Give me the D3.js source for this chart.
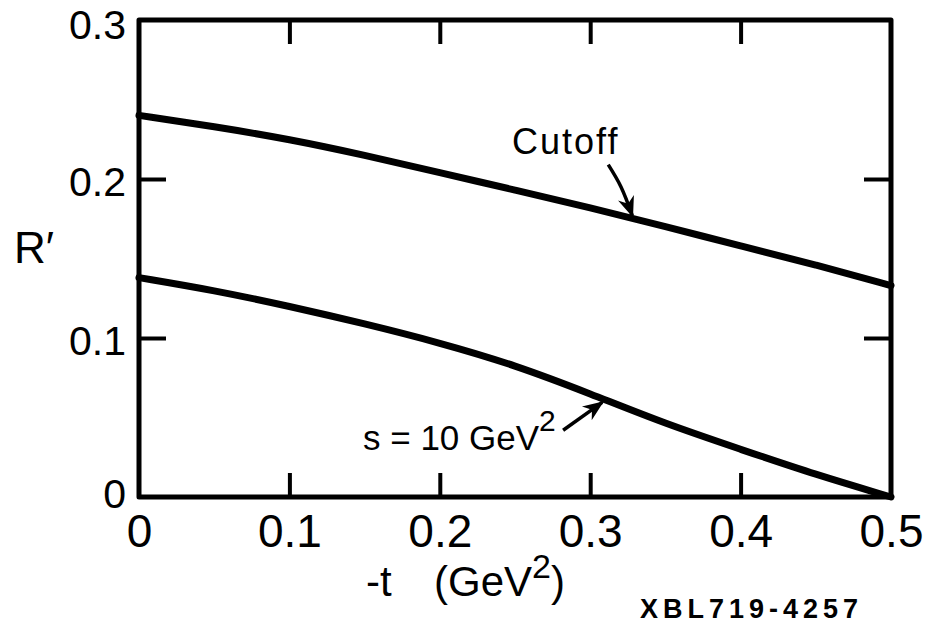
<!DOCTYPE html>
<html>
<head>
<meta charset="utf-8">
<script src="https://cdn.jsdelivr.net/npm/d3@7"></script>
<style>
  body { margin: 0; background: #fff; }
  svg { font-family: "Liberation Sans", Arial, sans-serif; }
</style>
</head>
<body>
<svg></svg>
<script>
var width = 933;
var height = 626;

// -t (GeV^2) sample points
var tValues  = [0, 0.05, 0.1, 0.15, 0.2, 0.25, 0.3, 0.35, 0.4, 0.45, 0.5];
var cutoffR  = [0.240, 0.233, 0.225, 0.215, 0.204, 0.193, 0.182, 0.170, 0.158, 0.146, 0.133];
var s10R     = [0.138, 0.130, 0.120, 0.109, 0.097, 0.083, 0.065, 0.046, 0.030, 0.014, 0.000];

var xTicks = [0, 0.1, 0.2, 0.3, 0.4, 0.5];
var yTicks = [0, 0.1, 0.2, 0.3];

// annotation arrows, in data units: [start, ..., tip]
var cutoffArrow = [[0.312, 0.209], [0.3205, 0.195], [0.328, 0.177]];
var s10Arrow    = [[0.282, 0.042], [0.308, 0.0595]];

var margin = {left: 139, right: 42, top: 20, bottom: 129};

var x = d3.scaleLinear()
    .domain([0, 0.5])
    .range([margin.left, width - margin.right]);

var y = d3.scaleLinear()
    .domain([0, 0.3])
    .range([height - margin.bottom, margin.top]);

var svg = d3.select("svg")
    .attr("width", width)
    .attr("height", height);

svg.append("defs")
  .append("marker")
    .attr("id", "head")
    .attr("viewBox", "0 0 10 10")
    .attr("refX", 9)
    .attr("refY", 5)
    .attr("markerWidth", 6)
    .attr("markerHeight", 6)
    .attr("markerUnits", "strokeWidth")
    .attr("orient", "auto")
  .append("path")
    .attr("d", "M0,1 L10,5 L0,9 L3,5 Z")
    .attr("fill", "#000");

// inward ticks on all four sides
function styleAxis(g) {
  g.select(".domain").remove();
  g.selectAll(".tick line")
      .attr("stroke", "#000")
      .attr("stroke-width", 4);
  g.selectAll(".tick text")
      .attr("fill", "#000");
}

var innerTicks = [0.1, 0.2, 0.3, 0.4];

svg.append("g")
    .attr("transform", `translate(0, ${y(0)})`)
    .call(d3.axisBottom(x).tickValues(xTicks).tickSize(-24).tickFormat(d3.format(".1~f")))
    .call(styleAxis)
    .call(g => g.selectAll(".tick text")
        .attr("y", 50)
        .attr("dy", null)
        .style("font-size", "46px"))
    .call(g => g.selectAll(".tick line").filter(d => d === 0 || d === 0.5).remove());

svg.append("g")
    .attr("transform", `translate(0, ${y(0.3)})`)
    .call(d3.axisTop(x).tickValues(innerTicks).tickSize(-24).tickFormat(""))
    .call(styleAxis);

svg.append("g")
    .attr("transform", `translate(${x(0)}, 0)`)
    .call(d3.axisLeft(y).tickValues(yTicks).tickSize(-27).tickFormat(d3.format(".1~f")))
    .call(styleAxis)
    .call(g => g.selectAll(".tick text")
        .attr("x", -13)
        .attr("dy", d => d === 0.3 ? "0.45em" : d === 0 ? "0.25em" : "0.4em")
        .style("font-size", "41px"))
    .call(g => g.selectAll(".tick line").filter(d => d === 0 || d === 0.3).remove());

svg.append("g")
    .attr("transform", `translate(${x(0.5)}, 0)`)
    .call(d3.axisRight(y).tickValues([0.1, 0.2]).tickSize(-27).tickFormat(""))
    .call(styleAxis);

// frame
svg.append("rect")
    .attr("x", x(0))
    .attr("y", y(0.3))
    .attr("width", x(0.5) - x(0))
    .attr("height", y(0) - y(0.3))
    .attr("fill", "none")
    .attr("stroke", "#000")
    .attr("stroke-width", 5)
    .attr("stroke-linejoin", "round");

// curves
var line = d3.line()
    .x((d, i) => x(tValues[i]))
    .y(d => y(d))
    .curve(d3.curveBasis);

[cutoffR, s10R].forEach(series => {
  svg.append("path")
      .datum(series)
      .attr("d", line)
      .attr("fill", "none")
      .attr("stroke", "#000")
      .attr("stroke-width", 7)
      .attr("stroke-linecap", "round");
});

// arrows
var arrowLine = d3.line()
    .x(d => x(d[0]))
    .y(d => y(d[1]))
    .curve(d3.curveCatmullRom);

[cutoffArrow, s10Arrow].forEach(pts => {
  svg.append("path")
      .datum(pts)
      .attr("d", arrowLine)
      .attr("fill", "none")
      .attr("stroke", "#000")
      .attr("stroke-width", 3.5)
      .attr("marker-end", "url(#head)");
});

// labels
svg.append("text")
    .attr("x", 512)
    .attr("y", 154)
    .style("font-size", "36px")
    .style("letter-spacing", "2px")
    .text("Cutoff");

var sLabel = svg.append("text")
    .attr("x", 363)
    .attr("y", 450)
    .style("font-size", "35px");
sLabel.append("tspan").text("s = 10 GeV");
sLabel.append("tspan")
    .attr("dy", -19)
    .style("font-size", "30px")
    .text("2");

svg.append("text")
    .attr("x", 14)
    .attr("y", 263)
    .style("font-size", "44px")
    .text("R′");

var xTitle = svg.append("text")
    .attr("y", 596)
    .style("font-size", "42px");
xTitle.append("tspan")
    .attr("x", 366)
    .text("-t");
xTitle.append("tspan")
    .attr("x", 434)
    .text("(GeV");
xTitle.append("tspan")
    .attr("dy", -18)
    .style("font-size", "34px")
    .text("2");
xTitle.append("tspan")
    .attr("dy", 18)
    .text(")");

svg.append("text")
    .attr("x", 640)
    .attr("y", 618)
    .style("font-size", "27px")
    .style("font-weight", "bold")
    .style("letter-spacing", "5px")
    .text("XBL719-4257");
</script>
</body>
</html>
